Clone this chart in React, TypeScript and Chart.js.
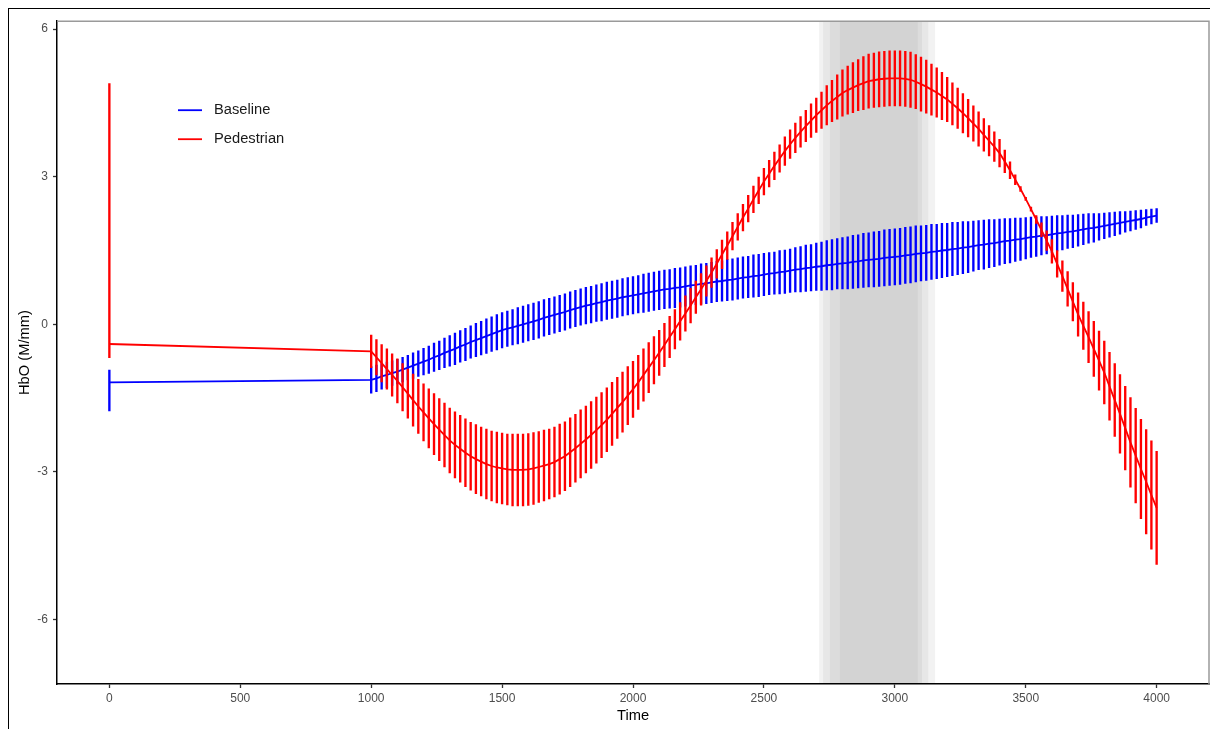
import React, { useEffect, useRef } from "react";
import { Chart, registerables } from "chart.js";

Chart.register(...registerables);

// ---------- data ----------
const time = [
  1000, 1020, 1040, 1060, 1080, 1100,
  1120, 1140, 1160, 1180, 1200,
  1220, 1240, 1260, 1280, 1300,
  1320, 1340, 1360, 1380, 1400,
  1420, 1440, 1460, 1480, 1500,
  1520, 1540, 1560, 1580, 1600,
  1620, 1640, 1660, 1680, 1700,
  1720, 1740, 1760, 1780, 1800,
  1820, 1840, 1860, 1880, 1900,
  1920, 1940, 1960, 1980, 2000,
  2020, 2040, 2060, 2080, 2100,
  2120, 2140, 2160, 2180, 2200,
  2220, 2240, 2260, 2280, 2300,
  2320, 2340, 2360, 2380, 2400,
  2420, 2440, 2460, 2480, 2500,
  2520, 2540, 2560, 2580, 2600,
  2620, 2640, 2660, 2680, 2700,
  2720, 2740, 2760, 2780, 2800,
  2820, 2840, 2860, 2880, 2900,
  2920, 2940, 2960, 2980, 3000,
  3020, 3040, 3060, 3080, 3100,
  3120, 3140, 3160, 3180, 3200,
  3220, 3240, 3260, 3280, 3300,
  3320, 3340, 3360, 3380, 3400,
  3420, 3440, 3460, 3480, 3500,
  3520, 3540, 3560, 3580, 3600,
  3620, 3640, 3660, 3680, 3700,
  3720, 3740, 3760, 3780, 3800,
  3820, 3840, 3860, 3880, 3900,
  3920, 3940, 3960, 3980, 4000,
];

const baselineMean = [
  -1.13, -1.10, -1.06, -1.03, -0.99, -0.96,
  -0.92, -0.88, -0.84, -0.80, -0.76,
  -0.72, -0.67, -0.63, -0.58, -0.54,
  -0.50, -0.45, -0.41, -0.36, -0.32,
  -0.28, -0.24, -0.20, -0.16, -0.12,
  -0.09, -0.06, -0.03, 0.00, 0.03,
  0.06, 0.09, 0.13, 0.16, 0.19,
  0.22, 0.25, 0.29, 0.32, 0.35,
  0.38, 0.40, 0.43, 0.45, 0.48,
  0.50, 0.52, 0.55, 0.57, 0.59,
  0.61, 0.63, 0.65, 0.67, 0.69,
  0.71, 0.72, 0.74, 0.75, 0.77,
  0.79, 0.80, 0.82, 0.83, 0.85,
  0.87, 0.88, 0.90, 0.91, 0.93,
  0.95, 0.96, 0.98, 0.99, 1.01,
  1.03, 1.04, 1.06, 1.07, 1.09,
  1.11, 1.12, 1.14, 1.15, 1.17,
  1.18, 1.20, 1.21, 1.23, 1.24,
  1.25, 1.27, 1.28, 1.30, 1.31,
  1.32, 1.33, 1.35, 1.36, 1.37,
  1.38, 1.40, 1.41, 1.43, 1.44,
  1.45, 1.47, 1.48, 1.50, 1.51,
  1.53, 1.54, 1.56, 1.57, 1.59,
  1.61, 1.62, 1.64, 1.65, 1.67,
  1.69, 1.70, 1.72, 1.73, 1.75,
  1.77, 1.78, 1.80, 1.81, 1.83,
  1.85, 1.86, 1.88, 1.89, 1.91,
  1.93, 1.95, 1.96, 1.98, 2.00,
  2.02, 2.04, 2.06, 2.08, 2.10,
  2.12, 2.14, 2.17, 2.19, 2.21,
];

const baselineErr = [
  0.27, 0.27, 0.26, 0.26, 0.25, 0.25,
  0.25, 0.25, 0.26, 0.26, 0.27,
  0.28, 0.29, 0.29, 0.30, 0.31,
  0.32, 0.32, 0.33, 0.33, 0.34,
  0.34, 0.35, 0.35, 0.36, 0.36,
  0.36, 0.36, 0.37, 0.37, 0.37,
  0.37, 0.37, 0.37, 0.37, 0.37,
  0.37, 0.37, 0.37, 0.37, 0.37,
  0.37, 0.37, 0.37, 0.38, 0.38,
  0.38, 0.38, 0.38, 0.38, 0.38,
  0.38, 0.39, 0.39, 0.39, 0.39,
  0.39, 0.39, 0.40, 0.40, 0.40,
  0.40, 0.40, 0.41, 0.41, 0.41,
  0.41, 0.41, 0.42, 0.42, 0.42,
  0.42, 0.42, 0.43, 0.43, 0.43,
  0.43, 0.43, 0.44, 0.44, 0.44,
  0.45, 0.46, 0.47, 0.47, 0.48,
  0.49, 0.50, 0.51, 0.51, 0.52,
  0.53, 0.54, 0.54, 0.55, 0.55,
  0.56, 0.56, 0.57, 0.57, 0.57,
  0.57, 0.57, 0.57, 0.57, 0.56,
  0.56, 0.56, 0.55, 0.55, 0.54,
  0.54, 0.53, 0.53, 0.52, 0.51,
  0.50, 0.50, 0.49, 0.48, 0.47,
  0.46, 0.45, 0.44, 0.43, 0.42,
  0.41, 0.40, 0.39, 0.38, 0.37,
  0.36, 0.35, 0.34, 0.33, 0.32,
  0.31, 0.30, 0.29, 0.27, 0.26,
  0.25, 0.24, 0.23, 0.21, 0.20,
  0.19, 0.18, 0.16, 0.15, 0.14,
];

const pedestrianMean = [
  -0.55, -0.67, -0.79, -0.91, -1.03, -1.15,
  -1.28, -1.41, -1.54, -1.67, -1.79,
  -1.91, -2.03, -2.14, -2.25, -2.36,
  -2.45, -2.53, -2.61, -2.68, -2.74,
  -2.79, -2.84, -2.88, -2.91, -2.93,
  -2.95, -2.96, -2.96, -2.96, -2.95,
  -2.93, -2.90, -2.87, -2.84, -2.80,
  -2.74, -2.68, -2.60, -2.52, -2.43,
  -2.34, -2.25, -2.15, -2.05, -1.94,
  -1.82, -1.70, -1.58, -1.45, -1.32,
  -1.18, -1.03, -0.88, -0.73, -0.58,
  -0.42, -0.26, -0.10, 0.06, 0.22,
  0.38, 0.55, 0.71, 0.88, 1.05,
  1.23, 1.42, 1.60, 1.79, 1.98,
  2.17, 2.35, 2.54, 2.72, 2.90,
  3.06, 3.22, 3.37, 3.52, 3.66,
  3.79, 3.91, 4.03, 4.14, 4.25,
  4.35, 4.45, 4.54, 4.62, 4.70,
  4.76, 4.81, 4.86, 4.90, 4.94,
  4.96, 4.98, 4.99, 5.00, 5.00,
  5.00, 4.99, 4.97, 4.93, 4.88,
  4.83, 4.77, 4.71, 4.64, 4.57,
  4.48, 4.39, 4.29, 4.19, 4.08,
  3.97, 3.85, 3.73, 3.61, 3.48,
  3.31, 3.13, 2.94, 2.75, 2.55,
  2.34, 2.13, 1.92, 1.70, 1.48,
  1.23, 0.98, 0.72, 0.46, 0.20,
  -0.03, -0.26, -0.50, -0.74, -0.98,
  -1.26, -1.54, -1.82, -2.11, -2.40,
  -2.67, -2.94, -3.20, -3.47, -3.73,
];

const pedestrianErr = [
  0.33, 0.36, 0.38, 0.41, 0.43, 0.45,
  0.48, 0.50, 0.53, 0.55, 0.58,
  0.60, 0.62, 0.63, 0.65, 0.66,
  0.67, 0.68, 0.69, 0.69, 0.70,
  0.70, 0.71, 0.71, 0.72, 0.72,
  0.72, 0.73, 0.73, 0.73, 0.73,
  0.73, 0.72, 0.72, 0.71, 0.71,
  0.71, 0.70, 0.70, 0.69, 0.69,
  0.68, 0.68, 0.67, 0.66, 0.65,
  0.64, 0.62, 0.61, 0.59, 0.57,
  0.55, 0.53, 0.51, 0.48, 0.46,
  0.44, 0.42, 0.40, 0.38, 0.36,
  0.35, 0.33, 0.32, 0.31, 0.30,
  0.29, 0.29, 0.28, 0.28, 0.27,
  0.27, 0.27, 0.27, 0.27, 0.27,
  0.27, 0.28, 0.28, 0.29, 0.29,
  0.30, 0.31, 0.32, 0.34, 0.35,
  0.37, 0.40, 0.42, 0.45, 0.47,
  0.49, 0.51, 0.52, 0.54, 0.55,
  0.55, 0.56, 0.56, 0.56, 0.56,
  0.56, 0.56, 0.56, 0.55, 0.55,
  0.54, 0.52, 0.50, 0.48, 0.45,
  0.43, 0.41, 0.40, 0.38, 0.36,
  0.35, 0.33, 0.31, 0.30, 0.28,
  0.23, 0.17, 0.10, 0.05, 0.03,
  0.04, 0.08, 0.14, 0.20, 0.24,
  0.27, 0.31, 0.35, 0.39, 0.44,
  0.48, 0.52, 0.56, 0.60, 0.64,
  0.69, 0.74, 0.80, 0.85, 0.91,
  0.96, 1.01, 1.06, 1.10, 1.15,
];

// first observation (time 0): mean, lower, upper
const startTime = 0;
const baselineStart = [-1.18, -1.76, -0.93];
const pedestrianStart = [-0.40, -0.68, 4.89];

const xTicks = [0, 500, 1000, 1500, 2000, 2500, 3000, 3500, 4000];
const yTicks = [-6, -3, 0, 3, 6];

// highlighted window (nested bands, outer to inner)
const shadeStart = [2711, 2726, 2752, 2790];
const shadeEnd = [3154, 3128, 3104, 3088];

const seriesNames = ["Baseline", "Pedestrian"];
const seriesColors = ["#0000FF", "#FF0000"];

// ---------- helpers ----------
function linePoints(mean: number[], start: number[]) {
  return [{ x: startTime, y: start[0] }].concat(
    time.map((t, i) => ({ x: t, y: mean[i] }))
  );
}
function barPoints(mean: number[], err: number[], start: number[]) {
  return [{ x: startTime, y: [start[1], start[2]] as any }].concat(
    time.map((t, i) => ({ x: t, y: [mean[i] - err[i], mean[i] + err[i]] as any }))
  );
}

const FONT = "'Liberation Sans', Arial, Helvetica, sans-serif";

const shadePlugin = {
  id: "shade",
  beforeDraw(chart: any) {
    const { ctx, chartArea, scales } = chart;
    const alphas = [0.05, 0.042, 0.046, 0.04];
    ctx.save();
    ctx.fillStyle = "#ffffff";
    ctx.fillRect(0, 0, chart.width, chart.height);
    for (let i = 0; i < shadeStart.length; i++) {
      const x0 = scales.x.getPixelForValue(shadeStart[i]);
      const x1 = scales.x.getPixelForValue(shadeEnd[i]);
      ctx.fillStyle = `rgba(0,0,0,${alphas[i]})`;
      ctx.fillRect(x0, chartArea.top, x1 - x0, chartArea.bottom - chartArea.top);
    }
    ctx.restore();
  },
};

const framePlugin = {
  id: "frame",
  afterDraw(chart: any) {
    const { ctx, chartArea } = chart;
    ctx.save();
    // panel border (top, right)
    ctx.strokeStyle = "#9a9a9a";
    ctx.lineWidth = 1.5;
    ctx.beginPath();
    ctx.moveTo(chartArea.left, chartArea.top);
    ctx.lineTo(chartArea.right, chartArea.top);
    ctx.lineTo(chartArea.right, chartArea.bottom);
    ctx.stroke();
    // legend
    const lx = chartArea.left + 121;
    const ly = chartArea.top + 89;
    const gap = 29;
    ctx.font = `14.7px ${FONT}`;
    ctx.textBaseline = "middle";
    ctx.textAlign = "left";
    seriesNames.forEach((name, i) => {
      const y = ly + i * gap;
      ctx.strokeStyle = seriesColors[i];
      ctx.lineWidth = 1.8;
      ctx.beginPath();
      ctx.moveTo(lx, y);
      ctx.lineTo(lx + 24, y);
      ctx.stroke();
      ctx.fillStyle = "#1a1a1a";
      ctx.fillText(name, lx + 36, y);
    });
    ctx.restore();
  },
};

export default function App() {
  const ref = useRef<HTMLCanvasElement>(null);

  useEffect(() => {
    if (!ref.current) return;
    const chart = new Chart(ref.current, {
      type: "bar",
      data: {
        datasets: [
          {
            type: "line",
            label: seriesNames[1],
            data: linePoints(pedestrianMean, pedestrianStart),
            borderColor: seriesColors[1],
            borderWidth: 1.8,
            pointRadius: 0,
            tension: 0,
            order: 0,
          } as any,
          {
            type: "bar",
            label: seriesNames[1] + " error",
            data: barPoints(pedestrianMean, pedestrianErr, pedestrianStart),
            backgroundColor: seriesColors[1],
            borderWidth: 0,
            barThickness: 1.7,
            grouped: false,
            order: 1,
          } as any,
          {
            type: "line",
            label: seriesNames[0],
            data: linePoints(baselineMean, baselineStart),
            borderColor: seriesColors[0],
            borderWidth: 1.8,
            pointRadius: 0,
            tension: 0,
            order: 2,
          } as any,
          {
            type: "bar",
            label: seriesNames[0] + " error",
            data: barPoints(baselineMean, baselineErr, baselineStart),
            backgroundColor: seriesColors[0],
            borderWidth: 0,
            barThickness: 1.7,
            grouped: false,
            order: 3,
          } as any,
        ],
      },
      options: {
        animation: false,
        responsive: false,
        devicePixelRatio: 1,
        layout: { padding: { top: 9, right: 1, left: 0, bottom: 0 } },
        plugins: {
          legend: { display: false },
          tooltip: { enabled: false },
        },
        scales: {
          x: {
            type: "linear",
            min: -200,
            max: 4200,
            offset: false,
            afterBuildTicks: (scale: any) => {
              scale.ticks = xTicks.map((v) => ({ value: v }));
            },
            afterFit: (scale: any) => {
              scale.height = 45;
            },
            ticks: {
              callback: (v: any) => String(v),
              color: "#4d4d4d",
              font: { family: FONT, size: 12 },
              padding: 3,
              maxRotation: 0,
              autoSkip: false,
            },
            grid: {
              display: true,
              drawOnChartArea: false,
              drawTicks: true,
              tickLength: 4,
              tickColor: "#333333",
              tickWidth: 1.3,
              offset: false,
            },
            border: { display: true, color: "#000000", width: 1.5 },
            title: {
              display: true,
              text: "Time",
              color: "#000000",
              font: { family: FONT, size: 14.7 },
              padding: { top: 4, bottom: 4 },
            },
          },
          y: {
            type: "linear",
            min: -7.31,
            max: 6.16,
            afterBuildTicks: (scale: any) => {
              scale.ticks = yTicks.map((v) => ({ value: v }));
            },
            afterFit: (scale: any) => {
              scale.width = 48;
            },
            ticks: {
              callback: (v: any) => String(v),
              color: "#4d4d4d",
              font: { family: FONT, size: 12 },
              padding: 5,
            },
            grid: {
              display: true,
              drawOnChartArea: false,
              drawTicks: true,
              tickLength: 4,
              tickColor: "#333333",
              tickWidth: 1.3,
            },
            border: { display: true, color: "#000000", width: 1.5 },
            title: {
              display: true,
              text: "HbO (M/mm)",
              color: "#000000",
              font: { family: FONT, size: 14.7 },
              padding: { top: 7, bottom: 4 },
            },
          },
        },
      },
      plugins: [shadePlugin, framePlugin],
    } as any);
    return () => chart.destroy();
  }, []);

  return (
    <div
      style={{
        position: "fixed",
        left: 8,
        top: 8,
        width: 1202,
        height: 721,
        borderLeft: "1px solid #000",
        borderTop: "1px solid #000",
        boxSizing: "border-box",
        background: "#fff",
      }}
    >
      <canvas
        ref={ref}
        width={1201}
        height={720}
        style={{ display: "block", width: 1201, height: 720 }}
      />
    </div>
  );
}
